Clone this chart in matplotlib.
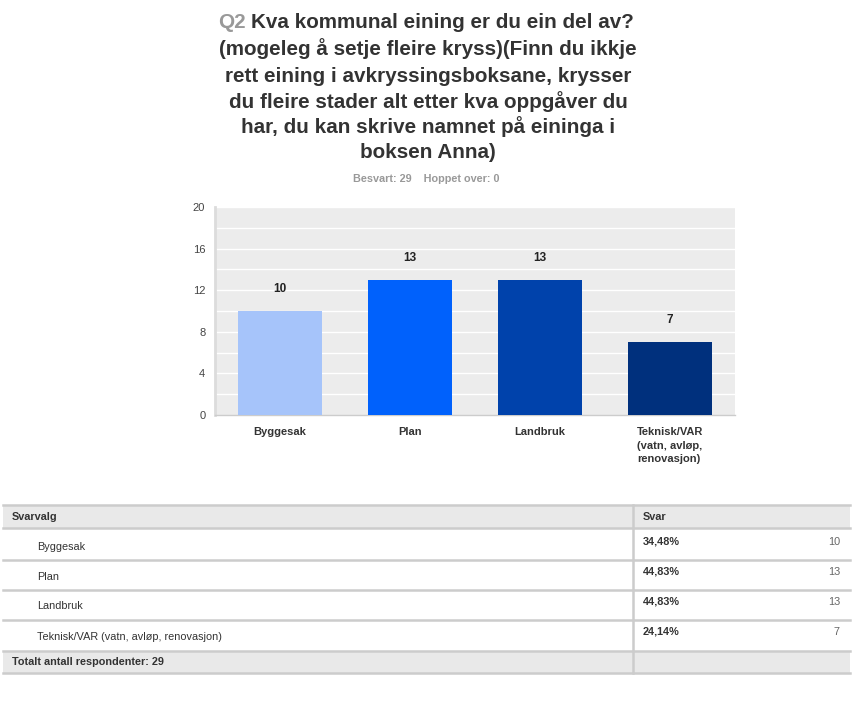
import matplotlib
matplotlib.use("Agg")
import matplotlib.pyplot as plt
from matplotlib.patches import Rectangle
from matplotlib.lines import Line2D

# ---- data ----
categories = ["Byggesak", "Plan", "Landbruk", "Teknisk/VAR\n(vatn, avløp,\nrenovasjon)"]
table_labels = ["Byggesak", "Plan", "Landbruk", "Teknisk/VAR (vatn, avløp, renovasjon)"]
counts = [10, 13, 13, 7]
percents = ["34,48%", "44,83%", "44,83%", "24,14%"]
bar_colors = ["#a6c4fa", "#0061fc", "#0042ab", "#00307d"]
yticks = [0, 4, 8, 12, 16, 20]
title_q = "Q2"
title_lines = [
    "Kva kommunal eining er du ein del av?",
    "(mogeleg å setje fleire kryss)(Finn du ikkje",
    "rett eining i avkryssingsboksane, krysser",
    "du fleire stader alt etter kva oppgåver du",
    "har, du kan skrive namnet på eininga i",
    "boksen Anna)",
]
subtitle = "Besvart: 29    Hoppet over: 0"
total_text = "Totalt antall respondenter: 29"

W, H = 868, 711
plt.rcParams['font.family'] = ['Liberation Sans', 'DejaVu Sans']
fig = plt.figure(figsize=(W / 100, H / 100), dpi=100)
fig.patch.set_facecolor("white")


def fx(x):
    return x / W


def fy(y):
    return 1 - y / H


# ---- title ----
renderer = fig.canvas.get_renderer()
title_fs = 14.85
title_y = [22, 49, 76, 102, 127, 152]
for i, line in enumerate(title_lines):
    if i == 0:
        full = fig.text(0, 0, title_q + " " + line, fontsize=title_fs, fontweight="bold")
        wfull = full.get_window_extent(renderer).width
        full.remove()
        q = fig.text(0, 0, title_q + " ", fontsize=title_fs, fontweight="bold")
        wq = q.get_window_extent(renderer).width
        q.remove()
        x0 = 426 - wfull / 2
        fig.text(fx(x0), fy(title_y[i]), title_q, fontsize=title_fs, fontweight="bold",
                 color="#999999", va="center", ha="left")
        fig.text(fx(x0 + wq), fy(title_y[i]), line, fontsize=title_fs, fontweight="bold",
                 color="#333333", va="center", ha="left")
    else:
        fig.text(fx(428), fy(title_y[i]), line, fontsize=title_fs, fontweight="bold",
                 color="#333333", va="center", ha="center")

fig.text(fx(426), fy(179), subtitle, fontsize=7.8, fontweight="bold", color="#999999",
         va="center", ha="center")

# ---- bar chart ----
ax = fig.add_axes([fx(215), fy(415), (735 - 215) / W, (415 - 207) / H])
ax.set_facecolor("#ececec")
x = list(range(len(categories)))
ax.bar(x, counts, width=0.645, color=bar_colors, zorder=3)
ax.set_xlim(-0.5, 3.5)
ax.set_ylim(0, 20)
for yv in range(2, 21, 2):
    ax.axhline(yv, color="white", lw=1.0, zorder=1)
ax.set_yticks(yticks)
ax.set_yticklabels([str(v) for v in yticks], fontsize=8, color="#444444")
ax.tick_params(axis="y", length=0, pad=7)
ax.set_xticks(x)
ax.set_xticklabels([])
ax.tick_params(axis="x", length=0)
for s in ["top", "right"]:
    ax.spines[s].set_visible(False)
ax.spines["left"].set_color("#dcdcdc")
ax.spines["left"].set_linewidth(2)
ax.spines["bottom"].set_color("#cccccc")
ax.spines["bottom"].set_linewidth(1)
for xi, v in zip(x, counts):
    ax.annotate(str(v), (xi, v), xytext=(0, 11.5), textcoords="offset points",
                ha="center", va="bottom", fontsize=8.5, fontweight="bold", color="#222222")
for xi, lab in zip(x, categories):
    ax.text(xi, -(427 - 415) / (415 - 207), lab, ha="center", va="top", fontsize=8,
            fontweight="bold", color="#333333", multialignment="left", linespacing=1.45,
            transform=ax.get_xaxis_transform())

# ---- table ----
left, right, divx = 3, 850, 633
lines_y = [505, 528, 560, 590, 620, 651, 673]
fig.add_artist(Rectangle((fx(left), fy(528)), (right - left) / W, (528 - 505) / H,
                         transform=fig.transFigure, facecolor="#e9e9e9", edgecolor="none"))
fig.add_artist(Rectangle((fx(left), fy(673)), (right - left) / W, (673 - 651) / H,
                         transform=fig.transFigure, facecolor="#e9e9e9", edgecolor="none"))
for ly in lines_y:
    fig.add_artist(Line2D([fx(left), fx(right)], [fy(ly), fy(ly)], transform=fig.transFigure,
                          color="#cccccc", lw=1.8))
fig.add_artist(Line2D([fx(divx), fx(divx)], [fy(505), fy(673)], transform=fig.transFigure,
                      color="#cccccc", lw=1.8))

fig.text(fx(12), fy(516.5), "Svarvalg", fontsize=7.8, fontweight="bold", color="#333333",
         va="center", ha="left")
fig.text(fx(643), fy(516.5), "Svar", fontsize=7.8, fontweight="bold", color="#333333",
         va="center", ha="left")
label_y = [547, 577, 606, 637]
pct_y = [542, 572, 602, 632]
for lab, pct, cnt, ly, py in zip(table_labels, percents, counts, label_y, pct_y):
    fig.text(fx(37), fy(ly), lab, fontsize=7.8, color="#333333", va="center", ha="left")
    fig.text(fx(643), fy(py), pct, fontsize=7.8, fontweight="bold", color="#333333",
             va="center", ha="left")
    fig.text(fx(840), fy(py), str(cnt), fontsize=7.8, color="#666666", va="center", ha="right")
fig.text(fx(12), fy(662), total_text, fontsize=7.8, fontweight="bold", color="#333333",
         va="center", ha="left")

fig.savefig("out.png", dpi=100, facecolor="white")
